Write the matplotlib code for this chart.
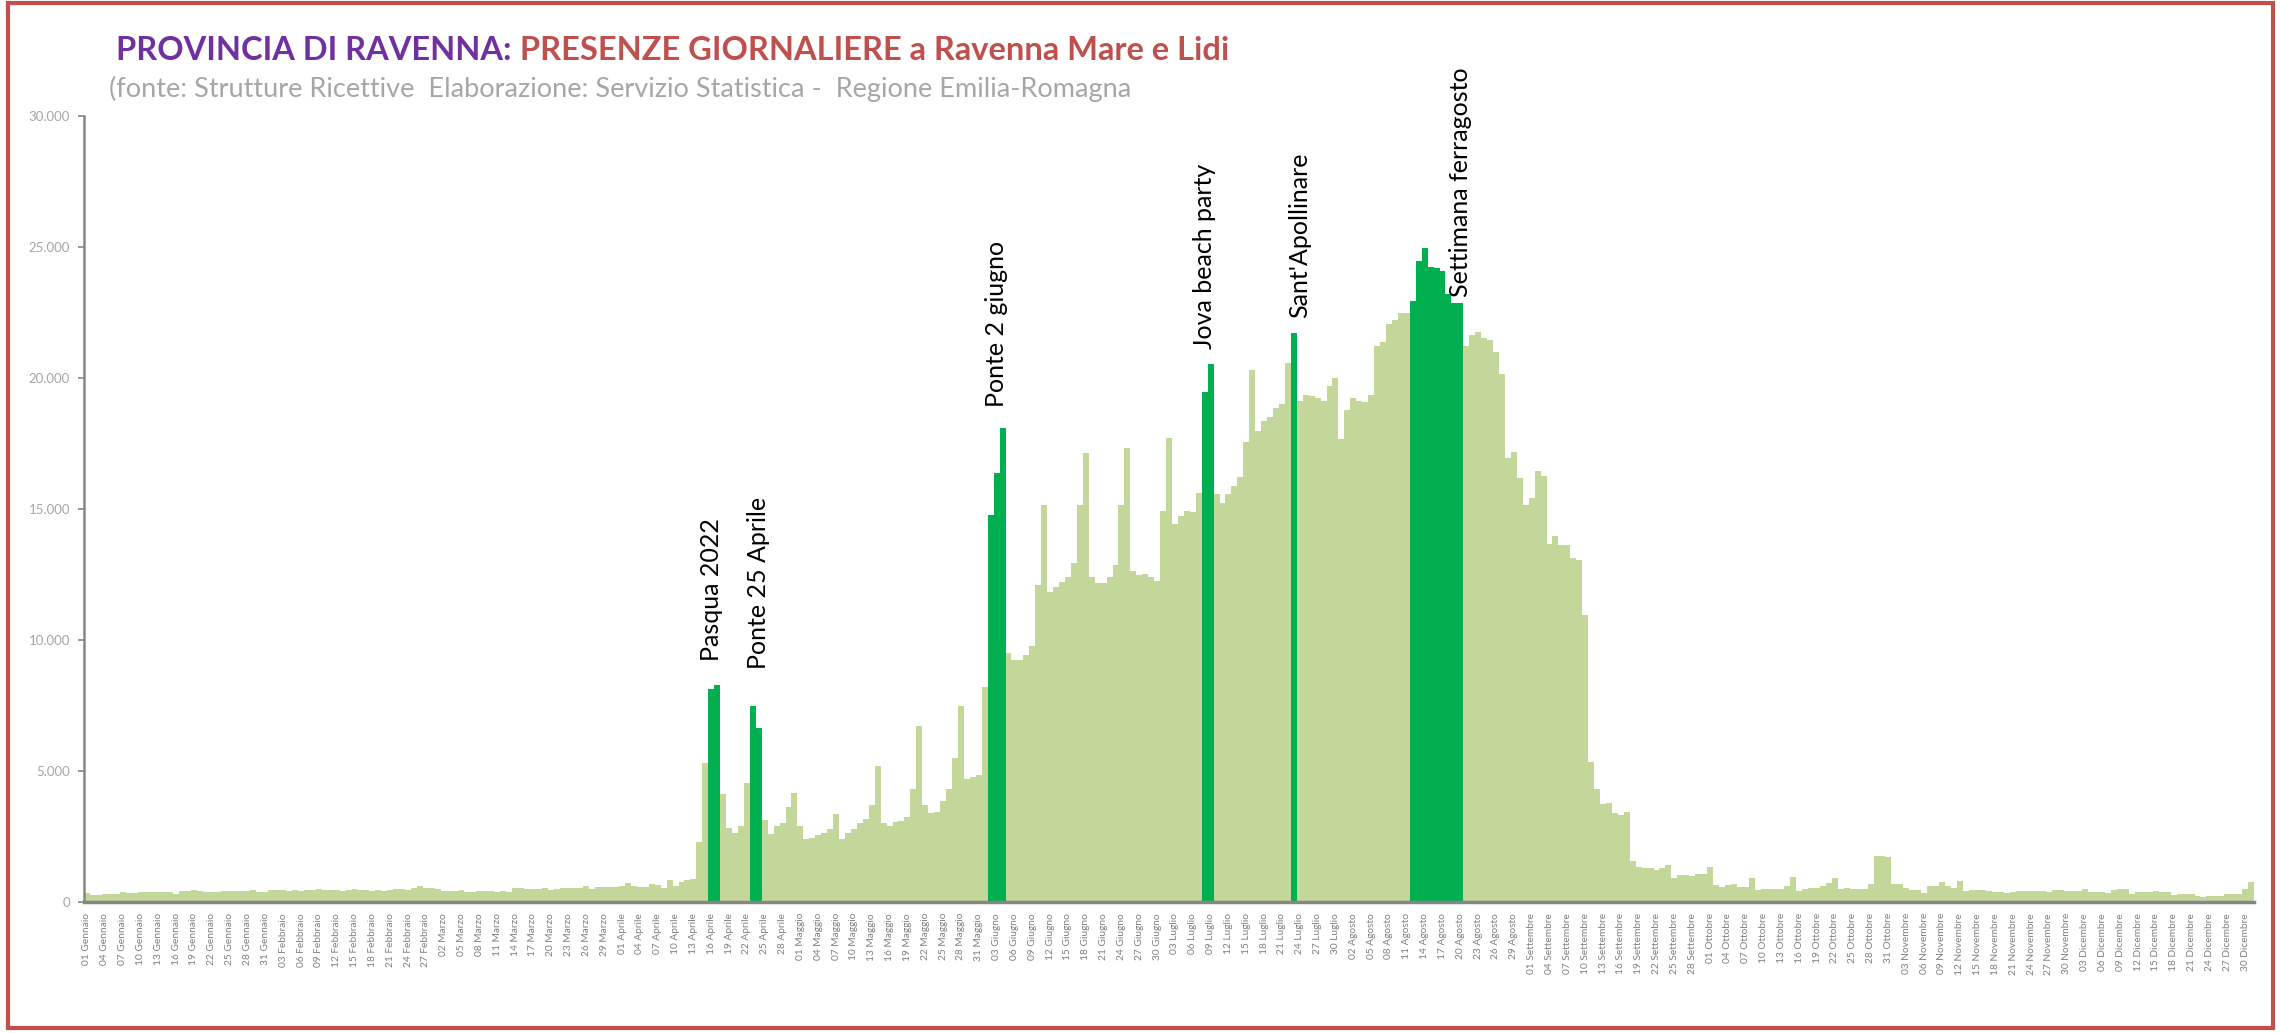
import matplotlib
matplotlib.use('Agg')
import matplotlib.pyplot as plt
from matplotlib.patches import Rectangle
from matplotlib.ticker import FuncFormatter

plt.rcParams['font.family'] = ['Lato', 'DejaVu Sans']

# ---------------- data ----------------
months = ['Gennaio', 'Febbraio', 'Marzo', 'Aprile', 'Maggio', 'Giugno',
          'Luglio', 'Agosto', 'Settembre', 'Ottobre', 'Novembre', 'Dicembre']

gennaio = [340, 280, 280, 320, 320, 320, 380, 330, 330, 370, 370, 370, 370, 370, 370, 320,
           420, 420, 470, 420, 370, 370, 370, 410, 410, 410, 410, 410, 470, 380, 380]
febbraio = [470, 470, 470, 420, 470, 420, 460, 460, 510, 460, 460, 460, 420, 470, 510, 460,
            460, 420, 470, 420, 470, 510, 510, 470, 550, 610, 530, 530]
marzo = [480, 420, 420, 420, 470, 380, 380, 420, 420, 420, 380, 420, 380, 520, 520, 500,
         500, 500, 540, 460, 510, 535, 535, 535, 535, 625, 485, 575, 575, 575, 575]
aprile = [625, 725, 625, 575, 575, 675, 635, 535, 840, 625, 780, 830, 890, 2300, 5290, 8130,
          8280, 4110, 2840, 2650, 2900, 4560, 7490, 6660, 3130, 2600, 2900, 3000, 3630, 4170]
maggio = [2890, 2400, 2460, 2550, 2650, 2780, 3340, 2400, 2650, 2800, 3000, 3150, 3690, 5180,
          3000, 2900, 3040, 3100, 3240, 4300, 6700, 3690, 3390, 3440, 3870, 4300, 5490, 7480,
          4690, 4760, 4830]
giugno = [8190, 14790, 16390, 18110, 9510, 9230, 9230, 9410, 9790, 12110, 15170, 11830, 12040,
          12220, 12390, 12940, 15170, 17120, 12390, 12160, 12160, 12390, 12850, 15170, 17320,
          12650, 12490, 12520, 12390, 12270]
luglio = [14940, 17720, 14440, 14720, 14940, 14890, 15620, 19470, 20550, 15580, 15240, 15580,
          15860, 16210, 17570, 20300, 17980, 18350, 18510, 18840, 19020, 20560, 21720, 19120,
          19370, 19320, 19240, 19120, 19690, 20000, 17670]
agosto = [18790, 19240, 19120, 19090, 19340, 21220, 21370, 22070, 22220, 22500, 22470, 22940,
          24460, 24960, 24240, 24190, 24100, 23210, 22850, 22850, 21220, 21630, 21760, 21540,
          21450, 21000, 20140, 16950, 17190, 16180, 15150]
settembre = [15420, 16450, 16270, 13680, 13960, 13620, 13620, 13120, 13050, 10960, 5330, 4300,
             3730, 3780, 3380, 3330, 3420, 1580, 1330, 1280, 1280, 1240, 1300, 1420, 900, 1040,
             1030, 990, 1080, 1080]
ottobre = [1330, 650, 590, 650, 680, 590, 560, 900, 470, 500, 500, 500, 500, 610, 950, 430, 490,
           520, 520, 610, 720, 920, 490, 550, 510, 510, 510, 690, 1750, 1750, 1700]
novembre = [670, 700, 530, 450, 470, 340, 620, 620, 750, 620, 530, 820, 430, 470, 470, 470, 430,
            380, 380, 340, 380, 430, 430, 430, 430, 430, 380, 470, 470, 430]
dicembre = [430, 430, 480, 370, 380, 380, 340, 450, 480, 480, 290, 380, 380, 380, 430, 380, 380,
            250, 290, 290, 290, 240, 200, 240, 240, 240, 290, 290, 290, 480, 780]

monthly = [gennaio, febbraio, marzo, aprile, maggio, giugno,
           luglio, agosto, settembre, ottobre, novembre, dicembre]

highlight_days = ['16 Aprile', '17 Aprile', '23 Aprile', '24 Aprile',
                  '02 Giugno', '03 Giugno', '04 Giugno',
                  '08 Luglio', '09 Luglio', '23 Luglio',
                  '12 Agosto', '13 Agosto', '14 Agosto', '15 Agosto', '16 Agosto',
                  '17 Agosto', '18 Agosto', '19 Agosto', '20 Agosto']

annotations = [('Pasqua 2022', '16 Aprile', 9200),
               ('Ponte 25 Aprile', '24 Aprile', 8900),
               ('Ponte 2 giugno', '03 Giugno', 18900),
               ('Jova beach party', '08 Luglio', 21100),
               ("Sant'Apollinare", '24 Luglio', 22300),
               ('Settimana ferragosto', '20 Agosto', 23100)]

title_a = 'PROVINCIA DI RAVENNA:'
title_b = ' PRESENZE GIORNALIERE a Ravenna Mare e Lidi'
subtitle = '(fonte: Strutture Ricettive  Elaborazione: Servizio Statistica -  Regione Emilia-Romagna'

# ---------------- build ----------------
values = [v for m in monthly for v in m]
labels = [f'{d:02d} {name}' for name, m in zip(months, monthly) for d in range(1, len(m) + 1)]
pos = list(range(len(values)))
light, dark = '#C4D79B', '#00B050'
colors = [dark if lab in highlight_days else light for lab in labels]

W, H = 2280, 1033
fig = plt.figure(figsize=(W / 100, H / 100), dpi=100)
ax = fig.add_axes([84 / W, 1 - 902 / H, (2254 - 84) / W, (902 - 116) / H])

ax.bar(pos, values, width=1.0, color=colors, linewidth=0)
ax.set_xlim(-0.5, len(values) - 0.5)
ax.set_ylim(0, 30000)
ax.set_yticks(range(0, 30001, 5000))
ax.yaxis.set_major_formatter(FuncFormatter(lambda v, p: f'{int(v):,}'.replace(',', '.')))
ax.tick_params(axis='y', colors='#868686', labelcolor='#A6A6A6', labelsize=9.5,
               length=4, width=1.2, direction='out', pad=6)
ax.set_xticks(pos[::3])
ax.set_xticklabels(labels[::3], rotation=90, fontsize=7.3, color='#7F7F7F')
ax.tick_params(axis='x', length=0, pad=8)

for s in ['top', 'right']:
    ax.spines[s].set_visible(False)
ax.spines['left'].set_color('#868686')
ax.spines['left'].set_linewidth(1.8)
ax.spines['bottom'].set_color('#868686')
ax.spines['bottom'].set_linewidth(2.5)

for text, day, yv in annotations:
    ax.text(labels.index(day), yv, text, rotation=90, ha='center', va='bottom',
            fontsize=18, color='black')

# titles
t1 = fig.text(116 / W, 1 - 51 / H, title_a, fontsize=23.5, fontweight='bold',
              color='#7030A0', ha='left', va='center')
fig.canvas.draw()
bb = t1.get_window_extent()
fig.text(bb.x1 / W, 1 - 51 / H, title_b, fontsize=23.5, fontweight='bold',
         color='#C0504D', ha='left', va='center')
fig.text(109 / W, 1 - 89 / H, subtitle, fontsize=19.5, color='#A6A6A6', ha='left', va='center')

# outer frame
fig.patches.append(Rectangle((8 / W, 5 / H), (2273 - 8) / W, (1028 - 3) / H,
                             transform=fig.transFigure, fill=False,
                             edgecolor='#C0504D', linewidth=3))

fig.savefig('out.png', dpi=100)
